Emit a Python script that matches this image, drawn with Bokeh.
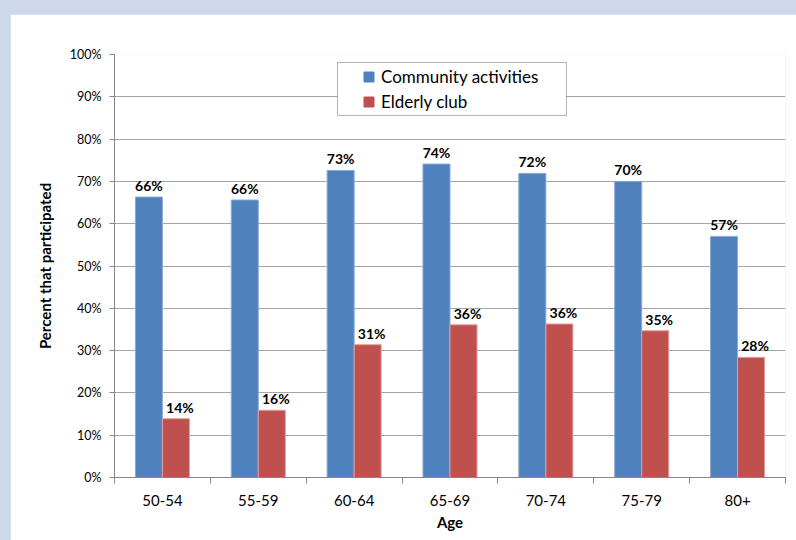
from bokeh.plotting import figure
from bokeh.models import (Range1d, FixedTicker, PrintfTickFormatter, Legend, LegendItem,
                          BoxAnnotation, ColumnDataSource)
from bokeh.core.properties import value
from bokeh.transform import dodge
from bokeh.embed import file_html
from bokeh.resources import INLINE

# Share of each age group that took part, in percent
ages = ["50-54", "55-59", "60-64", "65-69", "70-74", "75-79", "80+"]
community = [66.3, 65.6, 72.6, 74.1, 71.9, 70.0, 57.0]
elderly = [13.9, 15.9, 31.4, 36.1, 36.3, 34.7, 28.4]
series_names = ["Community activities", "Elderly club"]
y_ticks = [0, 10, 20, 30, 40, 50, 60, 70, 80, 90, 100]

FONT = "Lato"
BLUE = "#4F81BD"
RED = "#C0504D"
PAGE_BG = "#cdd8ea"
AXIS_GREY = "#868686"
GRID_GREY = "#a6a6a6"

n = len(ages)
centers = [i + 0.5 for i in range(n)]
bar_w = 0.282

src = ColumnDataSource(dict(
    x=centers,
    community=community,
    elderly=elderly,
    community_lbl=[f"{round(v)}%" for v in community],
    elderly_lbl=[f"{round(v)}%" for v in elderly],
))

p = figure(width=786, height=526, output_backend="svg", toolbar_location=None,
           x_range=Range1d(0, n), y_range=Range1d(0, 100),
           min_border_left=104, min_border_right=11, min_border_top=40, min_border_bottom=63)
p.margin = (14, 0, 0, 10)
p.outline_line_color = None
p.background_fill_color = "white"
p.border_fill_color = "white"

# bars
p.vbar(x=dodge("x", -bar_w / 2, range=p.x_range), top="community", width=bar_w,
       source=src, fill_color=BLUE, line_color="#8aaad6", line_width=1)
p.vbar(x=dodge("x", bar_w / 2, range=p.x_range), top="elderly", width=bar_w,
       source=src, fill_color=RED, line_color="#e0a09e", line_width=1)

# value labels above the bars
label_style = dict(text_font=value(FONT), text_font_style="bold", text_font_size="14px",
                   text_color="black", text_align="center", text_baseline="bottom",
                   y_offset=-3)
p.text(x=dodge("x", -bar_w / 2, range=p.x_range), y="community", text="community_lbl",
       source=src, **label_style)
p.text(x=dodge("x", bar_w / 2, range=p.x_range), y="elderly", text="elderly_lbl",
       source=src, x_offset=4, **label_style)

# y axis
p.yaxis.ticker = FixedTicker(ticks=y_ticks)
p.yaxis.formatter = PrintfTickFormatter(format="%d%%")
p.yaxis.axis_label = "Percent that participated"
p.yaxis.axis_line_color = AXIS_GREY
p.yaxis.major_tick_line_color = AXIS_GREY
p.yaxis.major_tick_out = 5
p.yaxis.major_tick_in = 0
p.yaxis.minor_tick_line_color = None
p.yaxis.major_label_standoff = 8
p.yaxis.axis_label_standoff = 13
p.yaxis.major_label_text_font_size = "12.5px"

# x axis: labels at category centres, tick marks on category boundaries
p.xaxis.ticker = FixedTicker(ticks=centers, minor_ticks=list(range(n + 1)))
p.xaxis.major_label_overrides = {c: a for c, a in zip(centers, ages)}
p.xaxis.axis_label = "Age"
p.xaxis.axis_line_color = AXIS_GREY
p.xaxis.major_tick_line_color = None
p.xaxis.major_tick_out = 0
p.xaxis.major_tick_in = 0
p.xaxis.minor_tick_line_color = AXIS_GREY
p.xaxis.minor_tick_out = 6
p.xaxis.minor_tick_in = 0
p.xaxis.major_label_standoff = 11
p.xaxis.axis_label_standoff = 4
p.xaxis.major_label_text_font_size = "15px"

for ax in (p.xaxis, p.yaxis):
    ax.major_label_text_font = FONT
    ax.major_label_text_color = "black"
    ax.axis_label_text_font = FONT
    ax.axis_label_text_font_size = "15px"
    ax.axis_label_text_font_style = "bold"
    ax.axis_label_text_color = "black"

p.xgrid.grid_line_color = None
p.ygrid.grid_line_color = GRID_GREY
p.ygrid.grid_line_width = 1

# legend frame and legend entries
p.add_layout(BoxAnnotation(left=2.326, right=4.715, bottom=85.6, top=98.1,
                           fill_color="white", fill_alpha=1.0,
                           line_color="black", line_width=1, level="annotation"))
nan = float("nan")
key_comm = p.scatter([nan], [nan], marker="square", size=10, fill_color=BLUE, line_color=BLUE)
key_eld = p.scatter([nan], [nan], marker="square", size=10, fill_color=RED, line_color=RED)
legend = Legend(items=[LegendItem(label=series_names[0], renderers=[key_comm]),
                       LegendItem(label=series_names[1], renderers=[key_eld])],
                location=(242, 363), padding=0, margin=0, spacing=0,
                glyph_width=25, glyph_height=25, label_height=25, label_standoff=-1,
                label_text_font=FONT, label_text_font_size="17px", label_text_color="black",
                background_fill_alpha=0, border_line_color=None)
p.add_layout(legend)

html = file_html(p, INLINE)
html = html.replace("</head>",
                    "<style>html, body { margin: 0; background: %s; }</style>\n</head>" % PAGE_BG, 1)
open("out.html", "w").write(html)
